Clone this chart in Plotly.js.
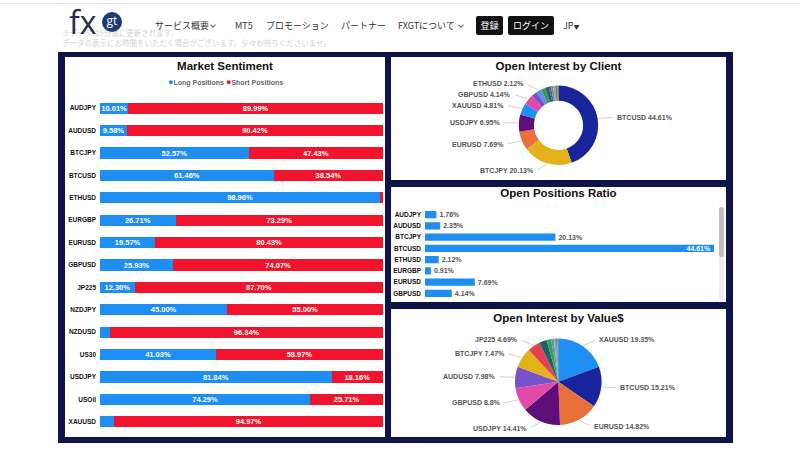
<!DOCTYPE html>
<html lang="ja">
<head>
<meta charset="utf-8">
<script src="https://cdn.plot.ly/plotly-3.0.1.min.js"></script>
<style>
html,body{margin:0;padding:0;}
body{width:800px;height:450px;background:#fff;position:relative;overflow:hidden;font-family:"Noto Sans CJK JP","Liberation Sans",sans-serif;}
.abs{position:absolute;}
#topline{left:0;top:3px;width:800px;height:1px;background:#e6e6e6;}
.faded{font-size:7.5px;color:#d2d2d2;white-space:nowrap;line-height:9px;}
#logo-fx{left:69px;top:5px;font-family:"Open Sans","Liberation Sans",sans-serif;font-size:32px;color:#25304a;line-height:34px;z-index:2;}
#logo-gt{left:102px;top:12px;width:20px;height:20px;border-radius:50%;background:#1f3a72;color:#fff;font-family:"Open Sans",sans-serif;font-size:12px;line-height:17px;text-align:center;z-index:2;}
.nav{top:19px;font-size:9px;color:#333;white-space:nowrap;line-height:14px;}
.chev{top:23px;width:3px;height:3px;border-right:1px solid #666;border-bottom:1px solid #666;transform:rotate(45deg);}
.btn{top:16px;height:19px;background:#111;color:#fff;font-size:9px;line-height:19px;text-align:center;border-radius:2px;}
#frame{left:58px;top:52px;width:675px;height:391px;background:#0c1449;}
.panel{background:#fff;}
#scrolltrack{left:719px;top:207px;width:5px;height:93px;background:#efefef;}
#scrollthumb{left:719px;top:207px;width:5px;height:50px;background:#c0c0c0;border-radius:3px;}
</style>
</head>
<body>
<div class="abs" id="topline"></div>
<div class="abs faded" style="left:62px;top:28px;">※データは5分毎に更新されます。</div>
<div class="abs faded" style="left:62px;top:38px;">データの表示にお時間をいただく場合がございます。少々お待ちくださいませ。</div>
<div class="abs" id="logo-fx">fx</div>
<div class="abs" id="logo-gt">gt</div>
<div class="abs nav" style="left:155px;">サービス概要</div>
<div class="abs chev" style="left:211px;"></div>
<div class="abs nav" style="left:235px;">MT5</div>
<div class="abs nav" style="left:266px;">プロモーション</div>
<div class="abs nav" style="left:341px;">パートナー</div>
<div class="abs nav" style="left:398px;">FXGTについて</div>
<div class="abs chev" style="left:459px;"></div>
<div class="abs btn" style="left:476px;width:27px;">登録</div>
<div class="abs btn" style="left:508px;width:46px;">ログイン</div>
<div class="abs nav" style="left:563px;">JP<span style="font-size:6px;">▼</span></div>

<div class="abs" id="frame"></div>
<div class="abs panel" id="ms" style="left:65px;top:57px;width:320px;height:380px;"></div>
<div class="abs panel" id="oic" style="left:391px;top:57px;width:335px;height:123px;"></div>
<div class="abs panel" id="opr" style="left:391px;top:187px;width:335px;height:115px;"></div>
<div class="abs panel" id="oiv" style="left:391px;top:309px;width:335px;height:128px;"></div>
<div class="abs" id="scrolltrack"></div>
<div class="abs" id="scrollthumb"></div>

<script>
// ---------- DATA ----------
const msSymbols = ['AUDJPY','AUDUSD','BTCJPY','BTCUSD','ETHUSD','EURGBP','EURUSD','GBPUSD','JP225','NZDJPY','NZDUSD','US30','USDJPY','USOil','XAUUSD'];
const msLong  = [10.01, 9.58, 52.57, 61.46, 98.96, 26.71, 19.57, 25.93, 12.30, 45.00, 3.66, 41.03, 81.84, 74.29, 5.03];
const msShort = [89.99, 90.42, 47.43, 38.54, 1.04, 73.29, 80.43, 74.07, 87.70, 55.00, 96.34, 58.97, 18.16, 25.71, 94.97];

const posSymbols = ['AUDJPY','AUDUSD','BTCJPY','BTCUSD','ETHUSD','EURGBP','EURUSD','GBPUSD','JP225','NZDJPY','NZDUSD','US30','USDJPY','USOil','XAUUSD'];
const posRatio   = [1.76, 2.35, 20.13, 44.61, 2.12, 0.91, 7.69, 4.14, 0.5, 0.9, 0.93, 1.4, 6.95, 0.8, 4.81];
const posVisibleRows = 8;   // rows visible in the scrolled list
const clientLabeled = ['BTCUSD','BTCJPY','EURUSD','USDJPY','XAUUSD','GBPUSD','ETHUSD'];

const valueSymbols = ['XAUUSD','BTCUSD','EURUSD','USDJPY','GBPUSD','AUDUSD','BTCJPY','JP225','US30','USOil','ETHUSD','NZDJPY','AUDJPY','EURGBP','NZDUSD'];
const valueShare   = [19.35, 15.21, 14.82, 14.41, 8.8, 7.98, 7.47, 4.69, 2.9, 1.7, 1.0, 0.8, 0.4, 0.27, 0.2];
const valueLabeled = ['XAUUSD','BTCUSD','EURUSD','USDJPY','GBPUSD','AUDUSD','BTCJPY','JP225'];

// ---------- STYLES ----------
const FONT = 'Liberation Sans, Arial, sans-serif';
const BLUE = '#1f8ef2';
const RED = '#f2142d';
const symbolColor = {
  BTCUSD:'#17249b', BTCJPY:'#e2b21a', EURUSD:'#e8713b', USDJPY:'#5f0d79', XAUUSD:'#1f8ff4',
  GBPUSD:'#e24aa8', AUDUSD:'#7752c9', ETHUSD:'#5a8fe6', AUDJPY:'#2f9e57', US30:'#22606a',
  NZDUSD:'#50607e', EURGBP:'#7e8aa4', NZDJPY:'#9aa3b5', USOil:'#2bab48', JP225:'#e2414f'
};
const cfg = {staticPlot:true, displayModeBar:false};
const titleFont = {family:FONT, size:11.5, color:'#111', weight:'bold'};

function mkTitle(text, yc, H){
  return {text:text, font:titleFont, x:0.5, xanchor:'center', xref:'container', y:1-yc/H, yanchor:'middle', yref:'container'};
}

// ---------- MARKET SENTIMENT ----------
(function(){
  const W=320, H=380, L=35, R=2, T=40, B=4;
  const pct = v => v >= 8 ? v.toFixed(2)+'%' : '';
  const tf = {family:FONT, size:7.5, color:'#fff', weight:'bold'};
  const traces = [
    {type:'bar', orientation:'h', y:msSymbols, x:msLong, name:'Long Positions', marker:{color:BLUE},
     text:msLong.map(pct), textposition:'inside', insidetextanchor:'middle', textfont:tf, constraintext:'none', hoverinfo:'skip'},
    {type:'bar', orientation:'h', y:msSymbols, x:msShort, name:'Short Positions', marker:{color:RED},
     text:msShort.map(pct), textposition:'inside', insidetextanchor:'middle', textfont:tf, constraintext:'none', hoverinfo:'skip'}
  ];
  const layout = {
    width:W, height:H, barmode:'stack', bargap:0.5, showlegend:false,
    margin:{l:L, r:R, t:T, b:B},
    paper_bgcolor:'#fff', plot_bgcolor:'#fff',
    title: mkTitle('Market Sentiment', 8.7, H),
    xaxis:{range:[0,100], visible:false},
    yaxis:{type:'category', categoryorder:'array', categoryarray:msSymbols, autorange:'reversed',
           showgrid:false, zeroline:false, showline:false, ticks:'',
           tickfont:{family:FONT, size:6.5, color:'#111', weight:'bold'}, ticklabelstandoff:3},
    annotations:[{
      xref:'paper', yref:'paper', x:(W/2-L)/(W-L-R), y:(H-B-25)/(H-T-B), xanchor:'center', yanchor:'middle', showarrow:false,
      text:'<span style="color:'+BLUE+';font-size:9px">●</span>'+traces[0].name+' <span style="color:'+RED+';font-size:9px">●</span>'+traces[1].name,
      font:{family:FONT, size:7, color:'#666', weight:'bold'}
    }]
  };
  Plotly.newPlot('ms', traces, layout, cfg);
})();

// ---------- OPEN POSITIONS RATIO ----------
(function(){
  const W=335, H=115;
  const maxR = Math.max(...posRatio);
  const ys = posSymbols.slice(0, posVisibleRows), xs = posRatio.slice(0, posVisibleRows);
  const trace = {type:'bar', orientation:'h', y:ys, x:xs, marker:{color:BLUE},
    text:xs.map(v => v+'%'), textposition:xs.map(v => v===maxR ? 'inside' : 'outside'),
    insidetextanchor:'end', constraintext:'none', hoverinfo:'skip',
    insidetextfont:{family:FONT, size:7, color:'#fff', weight:'bold'},
    outsidetextfont:{family:FONT, size:7, color:'#555', weight:'bold'}};
  const layout = {
    width:W, height:H, bargap:0.35, showlegend:false,
    margin:{l:34, r:12, t:22, b:3},
    paper_bgcolor:'#fff', plot_bgcolor:'#fff',
    title: mkTitle('Open Positions Ratio', 6, H),
    xaxis:{range:[0,maxR], visible:false},
    yaxis:{type:'category', categoryorder:'array', categoryarray:ys, autorange:'reversed',
           showgrid:false, zeroline:false, showline:false, ticks:'',
           tickfont:{family:FONT, size:6.5, color:'#111', weight:'bold'}, ticklabelstandoff:3}
  };
  Plotly.newPlot('opr', [trace], layout, cfg);
})();

// ---------- PIES ----------
function leaderLabels(symbols, values, labeled, cx, cy, r, W, H){
  const total = values.reduce((a,b)=>a+b,0);
  let cum = 0; const out = [];
  symbols.forEach((s,i)=>{
    const v = values[i];
    const mid = (cum + v/2)/total*2*Math.PI; cum += v;
    if(!labeled.includes(s)) return;
    const sn = Math.sin(mid), cs = Math.cos(mid);
    const hx = cx + (r+1)*sn, hy = cy - (r+1)*cs;
    const ex = cx + (r+8)*sn, ey = cy - (r+8)*cs;
    const right = sn >= 0;
    const tx = ex + (right ? 9 : -9);
    out.push({xref:'paper', yref:'paper', x:hx/W, y:1-hy/H, ax:tx-hx, ay:ey-hy,
      text:s+' '+v+'%', showarrow:true, arrowhead:0, arrowwidth:0.8, arrowcolor:'#c4c4c4',
      standoff:0, startstandoff:2, xanchor:right?'left':'right', yanchor:'middle',
      font:{family:FONT, size:7, color:'#555', weight:'bold'}});
  });
  return out;
}
function drawPie(div, W, H, symbols, values, labeled, hole, cx, cy, r, title, titleY){
  const trace = {type:'pie', labels:symbols, values:values, sort:false, direction:'clockwise', rotation:0,
    hole:hole, textinfo:'none', hoverinfo:'skip',
    marker:{colors:symbols.map(s=>symbolColor[s]), line:{width:0}},
    domain:{x:[(cx-r)/W,(cx+r)/W], y:[1-(cy+r)/H, 1-(cy-r)/H]}};
  const layout = {width:W, height:H, margin:{l:0,r:0,t:0,b:0}, showlegend:false,
    paper_bgcolor:'#fff', title: mkTitle(title, titleY, H),
    annotations: leaderLabels(symbols, values, labeled, cx, cy, r, W, H)};
  Plotly.newPlot(div, [trace], layout, cfg);
}
(function(){
  const idx = posSymbols.map((s,i)=>i).sort((a,b)=>posRatio[b]-posRatio[a]);
  const cs = idx.map(i=>posSymbols[i]), cv = idx.map(i=>posRatio[i]);
  drawPie('oic', 335, 123, cs, cv, clientLabeled, 0.62, 167.5, 125.3-57, 39.7, 'Open Interest by Client', 8.7);
  drawPie('oiv', 335, 128, valueSymbols, valueShare, valueLabeled, 0, 167.3, 381.7-309, 43.3, 'Open Interest by Value$', 9.3);
})();
</script>
</body>
</html>
